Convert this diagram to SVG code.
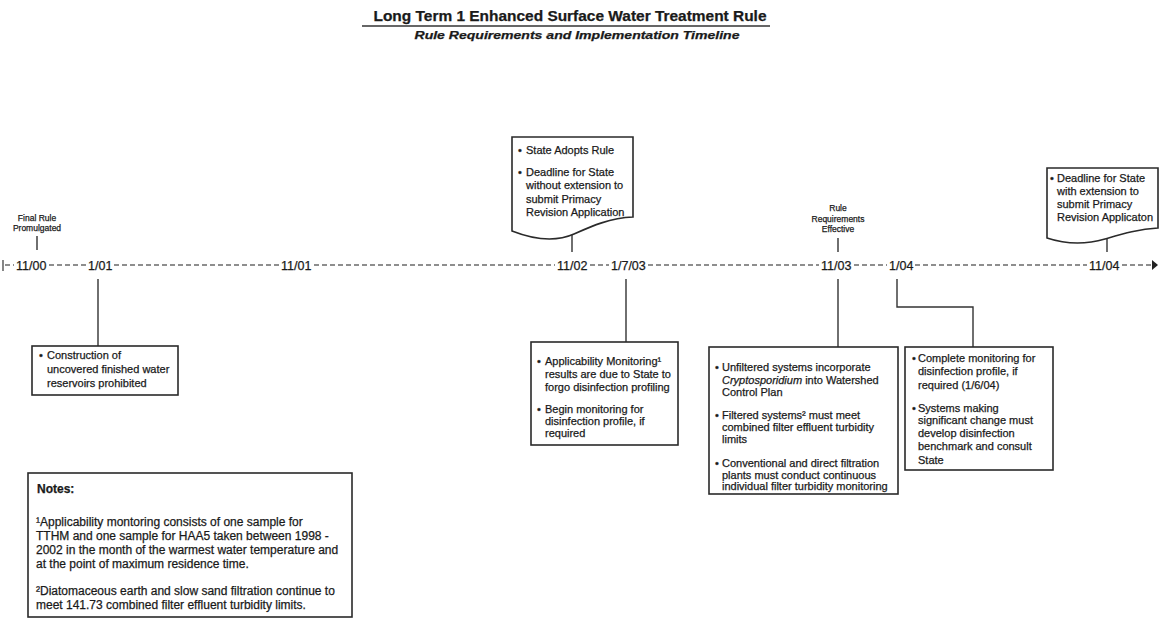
<svg xmlns="http://www.w3.org/2000/svg" width="1159" height="619" viewBox="0 0 1159 619">
<style>
text { font-family: "Liberation Sans", Arial, sans-serif; fill: #1a1a1a; stroke: #1a1a1a; stroke-width: 0.25; }
.t { font-size: 11px; }
.n { font-size: 12px; }
.lbl { font-size: 8.5px; text-anchor: middle; }
.date { font-size: 12.5px; }
.box { fill: #fff; stroke: #2a2a2a; stroke-width: 1.6; }
.conn { stroke: #333; stroke-width: 1.4; fill: none; }
.dash { stroke: #6a6a6a; stroke-width: 1.3; stroke-dasharray: 5 3; fill: none; }
</style>
<rect width="1159" height="619" fill="#fff"/>

<g id="title">
<text x="570" y="21" text-anchor="middle" font-size="14" font-weight="bold" textLength="393" lengthAdjust="spacingAndGlyphs">Long Term 1 Enhanced Surface Water Treatment Rule</text>
<line x1="362" y1="26" x2="770" y2="26" stroke="#333" stroke-width="1.3"/>
<text x="577" y="39" text-anchor="middle" font-size="11" font-weight="bold" font-style="italic" textLength="325" lengthAdjust="spacingAndGlyphs">Rule Requirements and Implementation Timeline</text>
</g>

<g id="connectors">
<line x1="3" y1="260" x2="3" y2="271" stroke="#444" stroke-width="1.3"/>
<path class="dash" d="M5,265H14 M49,265H86 M114,265H279 M314,265H555 M590,265H609 M648,265H819 M854,265H887 M915,265H1087 M1122,265H1151"/>
<polygon points="1152,260 1158,265 1152,270" fill="#222"/>
<path class="conn" d="M37,236V250"/>
<path class="conn" d="M572,235V252"/>
<path class="conn" d="M838,238V252"/>
<path class="conn" d="M1107,239V252"/>
<path class="conn" d="M98,279V346"/>
<path class="conn" d="M626,279V342"/>
<path class="conn" d="M838,279V347"/>
<path class="conn" d="M897,279V307H973V347"/>
</g>

<g id="dates">
<text class="date" x="16" y="269.5">11/00</text>
<text class="date" x="88" y="269.5">1/01</text>
<text class="date" x="281" y="269.5">11/01</text>
<text class="date" x="557" y="269.5">11/02</text>
<text class="date" x="611" y="269.5">1/7/03</text>
<text class="date" x="821" y="269.5">11/03</text>
<text class="date" x="889" y="269.5">1/04</text>
<text class="date" x="1089" y="269.5">11/04</text>
</g>

<g id="final-rule">
<text class="lbl" x="37" y="221">Final Rule</text>
<text class="lbl" x="37" y="231">Promulgated</text>
</g>

<g id="state-adopts">
<path class="box" d="M512,137H633V217C610,218 592,226 574,234C556,242 535,240 512,231Z"/>
<text class="t" x="518" y="154">•</text><text class="t" x="526" y="154">State Adopts Rule</text>
<text class="t" x="518" y="176">•</text><text class="t" x="526" y="176">Deadline for State</text>
<text class="t" x="526" y="189">without extension to</text>
<text class="t" x="526" y="203">submit Primacy</text>
<text class="t" x="526" y="216">Revision Application</text>
</g>

<g id="rule-effective">
<text class="lbl" x="838" y="211">Rule</text>
<text class="lbl" x="838" y="222">Requirements</text>
<text class="lbl" x="838" y="232">Effective</text>
</g>

<g id="state-extension">
<path class="box" d="M1047,168H1158V228C1138,229 1122,234 1105,239C1088,244 1068,245 1047,238Z"/>
<text class="t" x="1050" y="182">•</text><text class="t" x="1057" y="182">Deadline for State</text>
<text class="t" x="1057" y="195">with extension to</text>
<text class="t" x="1057" y="208">submit Primacy</text>
<text class="t" x="1057" y="221">Revision Applicaton</text>
</g>

<g id="reservoirs">
<rect class="box" x="32" y="346" width="146" height="49"/>
<text class="t" x="39" y="359">•</text><text class="t" x="47" y="359">Construction of</text>
<text class="t" x="47" y="373">uncovered finished water</text>
<text class="t" x="47" y="387">reservoirs prohibited</text>
</g>

<g id="applicability">
<rect class="box" x="531" y="342" width="147" height="103"/>
<text class="t" x="537" y="365">•</text><text class="t" x="545" y="365">Applicability Monitoring¹</text>
<text class="t" x="545" y="378">results are due to State to</text>
<text class="t" x="545" y="391">forgo disinfection profiling</text>
<text class="t" x="537" y="413">•</text><text class="t" x="545" y="413">Begin monitoring for</text>
<text class="t" x="545" y="425">disinfection profile, if</text>
<text class="t" x="545" y="437">required</text>
</g>

<g id="requirements">
<rect class="box" x="709" y="347" width="189" height="147"/>
<text class="t" x="715" y="371">•</text><text class="t" x="722" y="371">Unfiltered systems incorporate</text>
<text class="t" x="722" y="384"><tspan font-style="italic">Cryptosporidium</tspan> into Watershed</text>
<text class="t" x="722" y="396">Control Plan</text>
<text class="t" x="715" y="419">•</text><text class="t" x="722" y="419">Filtered systems² must meet</text>
<text class="t" x="722" y="431">combined filter effluent turbidity</text>
<text class="t" x="722" y="443">limits</text>
<text class="t" x="715" y="467">•</text><text class="t" x="722" y="467">Conventional and direct filtration</text>
<text class="t" x="722" y="479">plants must conduct continuous</text>
<text class="t" x="722" y="490">individual filter turbidity monitoring</text>
</g>

<g id="profile">
<rect class="box" x="905" y="347" width="148" height="123"/>
<text class="t" x="912" y="362">•</text><text class="t" x="918" y="362">Complete monitoring for</text>
<text class="t" x="918" y="375">disinfection profile, if</text>
<text class="t" x="918" y="389">required (1/6/04)</text>
<text class="t" x="912" y="412">•</text><text class="t" x="918" y="412">Systems making</text>
<text class="t" x="918" y="424">significant change must</text>
<text class="t" x="918" y="437">develop disinfection</text>
<text class="t" x="918" y="450">benchmark and consult</text>
<text class="t" x="918" y="464">State</text>
</g>

<g id="notes">
<rect class="box" x="28" y="473" width="324" height="144"/>
<text class="n" x="37" y="493" font-weight="bold">Notes:</text>
<text class="n" x="36" y="526">¹Applicability montoring consists of one sample for</text>
<text class="n" x="36" y="540">TTHM and one sample for HAA5 taken between 1998 -</text>
<text class="n" x="36" y="554">2002 in the month of the warmest water temperature and</text>
<text class="n" x="36" y="568">at the point of maximum residence time.</text>
<text class="n" x="36" y="595">²Diatomaceous earth and slow sand filtration continue to</text>
<text class="n" x="36" y="609">meet 141.73 combined filter effluent turbidity limits.</text>
</g>
</svg>
